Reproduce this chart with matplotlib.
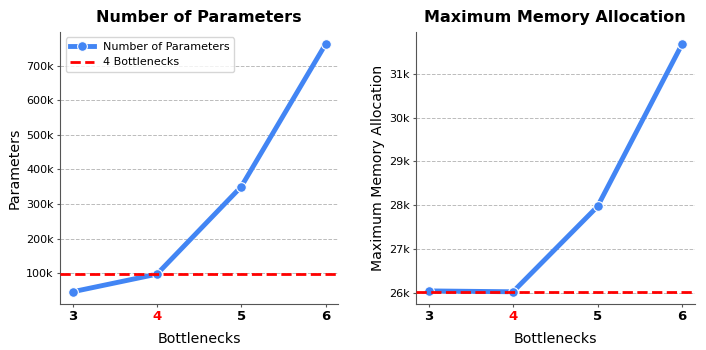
import matplotlib
matplotlib.use("Agg")
from matplotlib import pyplot as plt
from matplotlib.ticker import FuncFormatter

# datos
bottlenecks = [3, 4, 5, 6]
parameters = [46000, 97000, 350000, 762000]
max_memory = [26040, 26020, 27970, 31680]
ref_params = 97000
ref_memory = 26020
chosen = 4

blue = "#4285F4"

fig = plt.figure(figsize=(7.06, 3.5), dpi=100)
ax1 = fig.add_axes([0.085, 0.131, 0.394, 0.778])
ax2 = fig.add_axes([0.589, 0.131, 0.395, 0.778])

def k_fmt(v, pos):
    return f"{v/1000:.0f}k"

panels = [
    (ax1, parameters, ref_params, "Number of Parameters", "Parameters"),
    (ax2, max_memory, ref_memory, "Maximum Memory Allocation", "Maximum Memory Allocation"),
]

for ax, vals, ref, title, ylab in panels:
    ax.plot(bottlenecks, vals, color=blue, lw=3.5, marker="o", ms=7,
            mec="white", mew=0.8, label=title, zorder=3)
    ax.axhline(ref, color="red", ls="--", lw=2, label=f"{chosen} Bottlenecks", zorder=4)
    ax.set_title(title, fontsize=11.5, fontweight="bold", pad=7)
    ax.set_xlabel("Bottlenecks", fontsize=10.2, labelpad=6)
    ax.set_ylabel(ylab, fontsize=10.2, labelpad=3)
    ax.set_xticks(bottlenecks)
    ax.set_xticklabels([str(b) for b in bottlenecks], fontweight="bold", fontsize=9.5)
    for lbl, b in zip(ax.get_xticklabels(), bottlenecks):
        if b == chosen:
            lbl.set_color("red")
    ax.yaxis.set_major_formatter(FuncFormatter(k_fmt))
    ax.tick_params(axis="y", labelsize=8, length=2.5, pad=2, color="#555555")
    ax.tick_params(axis="x", length=2.5, pad=2, color="#555555")
    ax.grid(axis="y", ls="--", lw=0.7, color="#bbbbbb")
    ax.set_axisbelow(True)
    ax.spines["top"].set_visible(False)
    ax.spines["right"].set_visible(False)
    for s in ["left", "bottom"]:
        ax.spines[s].set_color("#555555")

ax1.legend(loc="upper left", fontsize=8, handlelength=2.2)

fig.savefig("out.png", dpi=100)
